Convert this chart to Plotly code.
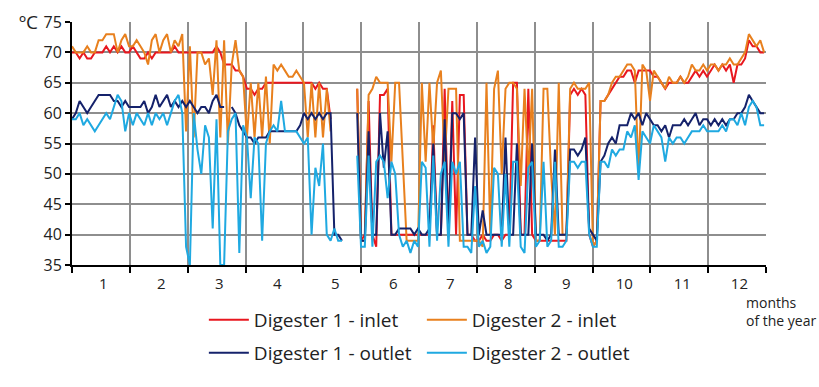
import plotly.graph_objects as go

N = None
# day of year (every second day)
DAYS = list(range(0, 366, 2))

MONTH_LABELS = ["1", "2", "3", "4", "5", "6", "7", "8", "9", "10", "11", "12"]
MONTH_STARTS = [0, 30.4, 60.8, 91.3, 121.7, 152.1, 182.5, 212.9, 243.3, 273.8, 304.2, 334.6, 365]
LABEL_POS = [16.5, 47, 77.5, 108, 138.5, 169, 199, 229.5, 260, 290.5, 321, 351]

D1_INLET = [
    70, 70, 69, 70, 69, 69, 70, 70, 70, 71, 70, 71, 70, 71, 70, 70,
    71, 70, 69, 69, 70, 69, 70, 70, 70, 70, 70, 71, 70, 70, 70,
    70, 70, 70, 70, 70, 70, 70, 71, 70, 68, 68, 68, 67, 67, 66,
    64, 64, 63, 64, 64, 65, 65, 65, 65, 65, 65, 65, 65, 65, 65,
    65, 65, 65, 64, 65, 64, 64, 59, N, N, N, N, N, N, 64,
    39, 40, 62, 40, 38, 63, 63, 64, 40, 40, 40, 40, 40, 40, 40, 40,
    40, 40, 40, 58, 40, 40, 64, 40, 62, 40, 63, 63, 40, 40, 39,
    39, 40, 39, 39, 40, 40, 39, 40, 40, 65, 65, 40, 40, 64, 40,
    39, 39, 39, 39, 39, 39, 39, 39, 39, 63, 64, 63, 64, 63, 40,
    38, 39, 62, 62, 63, 64, 65, 66, 66, 67, 67, 65, 67, 67, 67,
    67, 66, 66, 65, 64, 65, 65, 65, 66, 65, 65, 66, 67, 66, 67,
    66, 67, 68, 67, 68, 67, 68, 65, 68, 68, 69, 72, 71, 71, 70, 70,
]

D2_INLET = [
    71, 70, 70, 70, 71, 70, 70, 72, 72, 73, 73, 73, 70, 72, 73, 71,
    71, 72, 71, 70, 68, 72, 73, 70, 72, 73, 70, 72, 71, 73, 57,
    71, 56, 70, 70, 68, 69, 63, 72, 56, 72, 55, 68, 72, 67, 66,
    56, 65, 56, 65, 56, 66, 55, 68, 67, 68, 67, 66, 66, 67, 66,
    65, 56, 65, 56, 65, 56, 64, 57, N, N, N, N, N, N, 64,
    39, 39, 63, 64, 66, 65, 65, 65, 52, 65, 65, 52, 39, 39, 39, 39,
    65, 52, 65, 54, 65, 67, 52, 64, 64, 64, 39, 39, 39, 39, 39,
    39, 38, 65, 40, 64, 67, 50, 64, 65, 65, 64, 48, 64, 50, 64,
    39, 39, 64, 64, 50, 40, 65, 40, 40, 64, 65, 64, 64, 64, 65,
    38, 39, 62, 62, 63, 65, 66, 66, 67, 68, 68, 67, 50, 68, 67,
    62, 67, 66, 65, 64, 66, 65, 65, 66, 65, 66, 68, 67, 67, 68,
    67, 68, 68, 67, 68, 68, 69, 68, 68, 69, 70, 73, 72, 71, 72, 70,
]

D1_OUTLET = [
    59, 60, 62, 61, 60, 61, 62, 63, 63, 63, 63, 62, 62, 61, 62, 61,
    61, 61, 61, 62, 60, 61, 63, 61, 62, 63, 61, 62, 61, 62, 61,
    62, 61, 60, 61, 61, 60, 62, 63, 61, 61, N, 61, 60, 58, 57,
    56, 56, 55, 56, 56, 56, 57, 57, 57, 57, 57, 57, 57, 57, 58,
    60, 59, 60, 59, 60, 59, 60, 60, 40, 40, 39, N, N, N, 60,
    39, 39, 57, 40, 40, 60, 51, 57, 40, 40, 41, 41, 41, 41, 40, 41,
    40, 40, 41, 55, 40, 40, 59, 40, 60, 60, 59, 60, 40, 40, 56,
    40, 44, 40, 40, 40, 40, 40, 56, 40, 40, 55, 40, 40, 40, 55,
    40, 40, 40, 39, 40, 54, 40, 40, 40, 54, 54, 53, 54, 56, 41,
    40, 39, 52, 53, 55, 56, 55, 58, 58, 58, 60, 59, 60, 58, 60,
    59, 58, 58, 57, 58, 56, 58, 58, 58, 59, 58, 59, 60, 58, 59,
    59, 58, 59, 58, 59, 58, 59, 59, 60, 60, 61, 63, 62, 61, 60, 60,
]

D2_OUTLET = [
    59, 59, 60, 58, 59, 58, 57, 58, 59, 60, 59, 61, 63, 62, 57, 60,
    58, 60, 59, 58, 60, 58, 60, 59, 60, 58, 60, 62, 63, 60, 38,
    35, 60, 54, 50, 58, 56, 41, 59, 35, 35, 57, 59, 60, 37, 58,
    56, 46, 56, 55, 39, 55, 57, 58, 57, 62, 57, 57, 57, 57, 56,
    55, 56, 40, 51, 48, 55, 40, 39, 41, 39, 39, N, N, N, 53,
    38, 38, 53, 38, 52, 53, 52, 46, 52, 50, 40, 38, 39, 37, 39, 38,
    52, 51, 38, 53, 39, 50, 52, 38, 52, 50, 52, 38, 38, 37, 48,
    38, 39, 37, 38, 51, 50, 38, 50, 38, 52, 52, 38, 37, 51, 52,
    38, 39, 52, 38, 39, 52, 38, 38, 39, 52, 52, 51, 52, 52, 40,
    38, 38, 52, 52, 51, 54, 53, 54, 54, 57, 56, 58, 49, 57, 56,
    55, 58, 57, 56, 52, 56, 55, 56, 56, 55, 56, 57, 57, 57, 58,
    57, 57, 57, 57, 58, 57, 59, 59, 58, 60, 58, 61, 62, 61, 58, 58,
]

SERIES = [
    ("Digester 1 - inlet", D1_INLET, "#E8171F", "legend"),
    ("Digester 2 - inlet", D2_INLET, "#E8801E", "legend"),
    ("Digester 1 - outlet", D1_OUTLET, "#15226B", "legend2"),
    ("Digester 2 - outlet", D2_OUTLET, "#1FA9E1", "legend2"),
]

FONT = "Open Sans"
fig = go.Figure()
for name, vals, color, leg in SERIES:
    fig.add_trace(go.Scatter(
        x=DAYS[:len(vals)], y=vals, mode="lines", name=name,
        line=dict(color=color, width=2), connectgaps=False, legend=leg,
    ))

grid = "#8E8E8E"
fig.update_layout(
    width=819, height=387,
    margin=dict(l=72, r=53, t=22, b=122, autoexpand=False),
    paper_bgcolor="white", plot_bgcolor="white",
    font=dict(family=FONT, color="#222222", size=15),
    xaxis=dict(
        range=[0, 365], tickmode="array", tickvals=LABEL_POS, ticktext=MONTH_LABELS,
        ticks="", showgrid=False, zeroline=False, automargin=False,
        showline=True, linecolor="black", linewidth=2,
        tickfont=dict(size=15, color="#222222"), ticklabelstandoff=4,
        minor=dict(tickmode="array", tickvals=MONTH_STARTS, showgrid=True,
                   gridcolor=grid, gridwidth=1.6, ticks="outside", ticklen=6,
                   tickcolor="black", tickwidth=1.5),
    ),
    yaxis=dict(
        range=[35, 75], tickmode="linear", tick0=35, dtick=5, automargin=False,
        showgrid=True, gridcolor=grid, gridwidth=1.6, zeroline=False,
        showline=True, linecolor="black", linewidth=2,
        ticks="outside", ticklen=5, tickcolor="black", tickwidth=1.5,
        tickfont=dict(size=16, color="#222222"),
    ),
    legend=dict(orientation="h", x=0.19, xanchor="left", y=-0.226, yanchor="middle",
                font=dict(size=19, color="#222222"), itemwidth=40,
                entrywidth=163, entrywidthmode="pixels", bgcolor="rgba(0,0,0,0)"),
    legend2=dict(orientation="h", x=0.19, xanchor="left", y=-0.362, yanchor="middle",
                 font=dict(size=19, color="#222222"), itemwidth=40,
                 entrywidth=163, entrywidthmode="pixels", bgcolor="rgba(0,0,0,0)"),
    showlegend=True,
)

fig.add_annotation(text="ºC", xref="paper", yref="paper", x=-0.063, y=1.0,
                   xanchor="center", yanchor="middle", showarrow=False,
                   font=dict(size=19, color="#222222", family=FONT))
fig.add_annotation(text="months<br>of the year", xref="paper", yref="paper",
                   x=0.968, y=-0.19, xanchor="left", yanchor="middle", align="left",
                   showarrow=False, font=dict(size=14, color="#222222", family=FONT))

fig.write_html("out.html", config={"displayModeBar": False},
               post_script="document.body.style.margin='0px';")
